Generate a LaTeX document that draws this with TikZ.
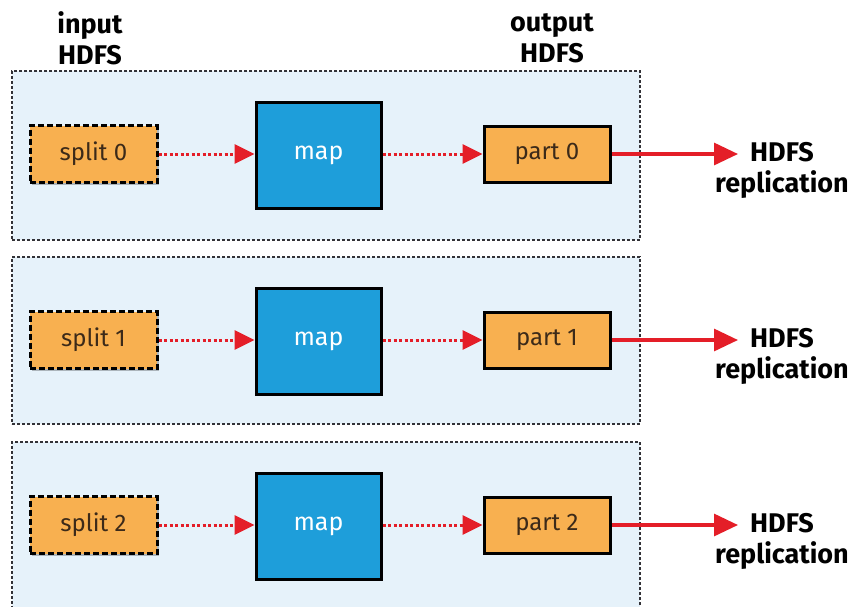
\documentclass[tikz,border=0pt]{standalone}
\usepackage{fontspec}
\setmainfont{Fira Sans}
\usetikzlibrary{arrows.meta,shadows}

\definecolor{panelfill}{RGB}{230,242,250}
\definecolor{panelline}{RGB}{50,50,55}
\definecolor{boxorange}{RGB}{248,176,80}
\definecolor{mapblue}{RGB}{30,158,218}
\definecolor{flowred}{RGB}{228,30,40}
\definecolor{boxtext}{RGB}{60,42,25}

\tikzset{
  panel/.style={draw=panelline, fill=panelfill, line width=1.3pt,
    dash pattern=on 3pt off 2pt, minimum width=628pt, inner sep=0pt},
  boxshadow/.style={drop shadow={shadow xshift=2pt, shadow yshift=-2pt,
    opacity=0.25, fill=black}},
  splitbox/.style={draw=black, fill=boxorange, line width=3pt,
    dash pattern=on 6pt off 3pt, minimum width=127pt, minimum height=57pt,
    inner sep=0pt, text=boxtext, font=\fontsize{24}{27}\selectfont, boxshadow},
  partbox/.style={draw=black, fill=boxorange, line width=3pt,
    minimum width=126pt, minimum height=56pt, inner sep=0pt,
    text=boxtext, font=\fontsize{24}{27}\selectfont, boxshadow},
  mapbox/.style={draw=black, fill=mapblue, line width=3pt,
    minimum width=125pt, minimum height=106pt, inner sep=0pt,
    text=white, font=\fontsize{25}{28}\selectfont, boxshadow},
  head/.style={align=center, inner sep=0pt,
    font=\bfseries\fontsize{27}{31}\selectfont},
  dotflow/.style={draw=flowred, line width=3pt, dash pattern=on 3pt off 2.5pt,
    -{Triangle[length=20pt,width=19pt]}},
  solidflow/.style={draw=flowred, line width=3.2pt,
    -{Triangle[length=24pt,width=22pt]}},
}

\begin{document}
\begin{tikzpicture}[x=1pt,y=-1pt]
\useasboundingbox (0,0) rectangle (852,606);

% column headings
\node[head] (inhdfs) at (90,38) {input\\HDFS};
\node[head] (outhdfs) at (552,38) {output\\HDFS};

% one panel per map task
\node[panel, minimum height=169pt] (p0) at (326,155.5) {};
\node[panel, minimum height=167pt] (p1) at (326,340.5) {};
\node[panel, minimum height=170pt] (p2) at (326,527) {};

\foreach \i/\y in {0/154,1/340,2/525}{
  \node[splitbox] (s\i) at (93.5,\y) {split \i};
  \node[mapbox] (m\i) at (318.5,\y+1) {map};
  \node[partbox] (o\i) at (547,\y) {part \i};
  \coordinate (t\i) at (738,\y);
  \node[head] (r\i) at (782,\y+16) {HDFS\\replication};
  \draw[dotflow] (s\i.east) -- (s\i.east -| m\i.west);
  \draw[dotflow] (m\i.east |- o\i.west) -- (o\i.west);
  \draw[solidflow] (o\i.east) -- (t\i);
}
\end{tikzpicture}
\end{document}
